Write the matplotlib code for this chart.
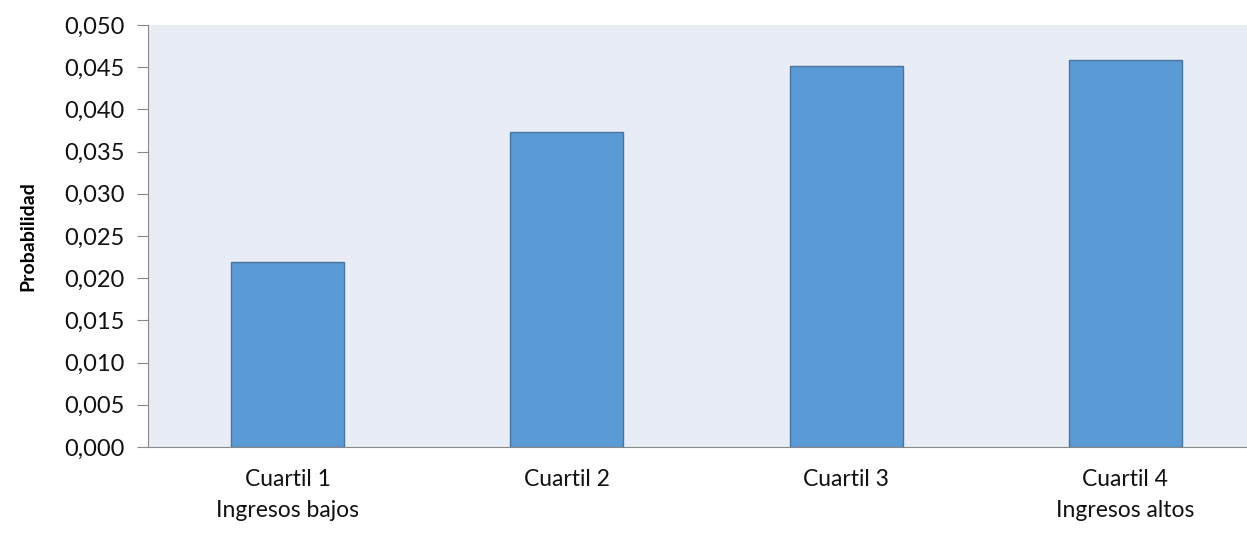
import matplotlib
matplotlib.use("Agg")
import matplotlib.pyplot as plt

categories = ["Cuartil 1\nIngresos bajos", "Cuartil 2", "Cuartil 3", "Cuartil 4\nIngresos altos"]
values = [0.0219, 0.0373, 0.0452, 0.0459]
yticks = [0.000, 0.005, 0.010, 0.015, 0.020, 0.025, 0.030, 0.035, 0.040, 0.045, 0.050]
ytick_labels = [f"{v:.3f}".replace(".", ",") for v in yticks]

plt.rcParams['font.family'] = ['Lato', 'DejaVu Sans']

fig = plt.figure(figsize=(12.47, 5.34), dpi=100)
ax = fig.add_axes([148/1247, 1-447/534, 1117/1247, 422/534])
ax.set_facecolor("#E8EDF5")
x = list(range(len(categories)))
ax.bar(x, values, width=0.405, color="#5B9BD5", edgecolor="#4A74A0", linewidth=1.0, zorder=3)
ax.set_xlim(-0.5, 3.5)
ax.set_ylim(0, 0.05)
ax.set_yticks(yticks)
ax.set_yticklabels(ytick_labels, fontsize=17, color="#111111")
ax.set_xticks(x)
ax.set_xticklabels(categories, fontsize=16.5, linespacing=1.6, color="#111111")
ax.tick_params(axis='x', length=0, pad=16)
ax.tick_params(axis='y', length=8, color="#888888", pad=9)
for s in ["top", "right"]:
    ax.spines[s].set_visible(False)
ax.spines["left"].set_color("#888888")
ax.spines["bottom"].set_color("#888888")
ax.set_ylabel("Probabilidad", fontsize=14, fontweight="bold", labelpad=20)
fig.savefig("out.png", dpi=100)
